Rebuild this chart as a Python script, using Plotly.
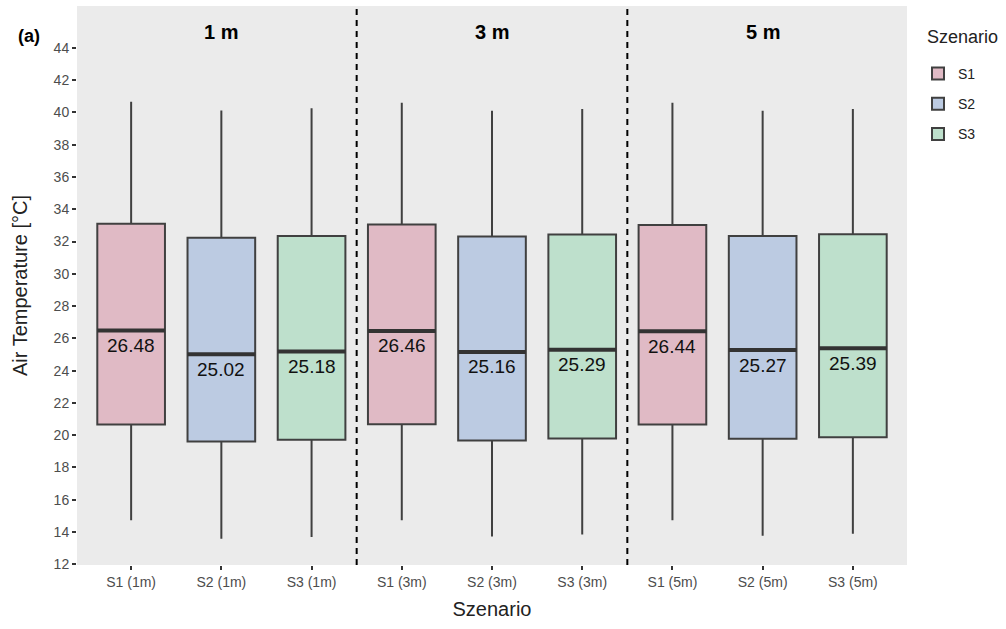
import plotly.graph_objects as go

categories = ["S1 (1m)", "S2 (1m)", "S3 (1m)", "S1 (3m)", "S2 (3m)", "S3 (3m)", "S1 (5m)", "S2 (5m)", "S3 (5m)"]
scenarios = ["S1", "S2", "S3"]
heights = ["1 m", "3 m", "5 m"]

# per scenario, values at 1m, 3m, 5m
lower = {"S1": [14.73, 14.73, 14.73], "S2": [13.57, 13.72, 13.76], "S3": [13.68, 13.84, 13.88]}
q1 = {"S1": [20.66, 20.68, 20.66], "S2": [19.60, 19.66, 19.77], "S3": [19.71, 19.79, 19.87]}
median = {"S1": [26.48, 26.46, 26.44], "S2": [25.02, 25.16, 25.27], "S3": [25.18, 25.29, 25.39]}
q3 = {"S1": [33.11, 33.05, 33.03], "S2": [32.24, 32.32, 32.34], "S3": [32.34, 32.43, 32.45]}
upper = {"S1": [40.67, 40.61, 40.61], "S2": [40.13, 40.11, 40.11], "S3": [40.26, 40.22, 40.22]}

fill_colors = {"S1": "#E0BAC5", "S2": "#BCCBE2", "S3": "#BEE0CC"}
line_color = "#404040"
box_width = 0.75

W, H = 1006, 629
L, R, T, B = 77, 99, 6, 64
pw, ph = W - L - R, H - T - B


def px_x(x):
    return (x - L) / pw


def px_y(y):
    return 1 - (y - T) / ph


fig = go.Figure()
for si, s in enumerate(scenarios):
    xs = [f"{s} ({h.replace(' ', '')})" for h in heights]
    fig.add_trace(go.Box(
        name=s, x=xs, legendgroup=s,
        q1=q1[s], median=median[s], q3=q3[s],
        lowerfence=lower[s], upperfence=upper[s],
        fillcolor=fill_colors[s], line=dict(color=line_color, width=2),
        whiskerwidth=0, width=box_width, boxpoints=False,
        hoverinfo="skip",
    ))

# thick median lines and labels
for si, s in enumerate(scenarios):
    for hi, h in enumerate(heights):
        cat = f"{s} ({h.replace(' ', '')})"
        idx = categories.index(cat)
        fig.add_shape(type="line", xref="x", yref="y",
                      x0=idx - box_width / 2, x1=idx + box_width / 2,
                      y0=median[s][hi], y1=median[s][hi],
                      line=dict(color="#333333", width=4))
        fig.add_annotation(x=cat, y=median[s][hi], text=f"{median[s][hi]:.2f}",
                           showarrow=False, yshift=-15,
                           font=dict(size=19, color="#111111", family="Arial"))

# dashed separators between height groups
for b in [2.5, 5.5]:
    fig.add_shape(type="line", xref="x", yref="paper", x0=b, x1=b, y0=0, y1=1,
                  line=dict(color="black", width=2, dash="6px,5px"))

# group titles
for gi, h in enumerate(heights):
    fig.add_annotation(x=gi * 3 + 1, xref="x", y=px_y(32), yref="paper", yanchor="middle",
                       text=f"<b>{h}</b>", showarrow=False,
                       font=dict(size=20, color="black", family="Arial"))
fig.add_annotation(x=px_x(29), y=px_y(36), xref="paper", yref="paper", text="<b>(a)</b>",
                   showarrow=False, xanchor="center", yanchor="middle",
                   font=dict(size=18, color="black", family="Arial"))
# legend title
fig.add_annotation(x=px_x(925), y=px_y(37), xref="paper", yref="paper", text="Szenario",
                   showarrow=False, xanchor="left", yanchor="middle",
                   font=dict(size=18, color="#222222", family="Arial"))

fig.update_layout(
    width=W, height=H,
    margin=dict(l=L, r=R, t=T, b=B, autoexpand=False),
    plot_bgcolor="#EBEBEB", paper_bgcolor="white",
    font=dict(family="Arial", color="#4D4D4D"),
    boxmode="overlay",
    showlegend=True,
    legend=dict(
        x=px_x(918), y=px_y(58), xanchor="left", yanchor="top",
        font=dict(size=14, color="#222222"),
        bgcolor="rgba(0,0,0,0)",
        tracegroupgap=9,
        itemsizing="constant",
    ),
    xaxis=dict(
        type="category", categoryorder="array", categoryarray=categories,
        range=[-0.6, 8.6], showgrid=False, zeroline=False, automargin=False,
        ticks="outside", ticklen=4, tickcolor="#333333", tickwidth=1.5,
        tickfont=dict(size=14, color="#4D4D4D"),
        title=dict(text="Szenario", font=dict(size=20, color="#222222"), standoff=13),
    ),
    yaxis=dict(
        range=[11.95, 46.6], tickmode="array", tickvals=list(range(12, 45, 2)),
        showgrid=False, zeroline=False, automargin=False,
        ticks="outside", ticklen=4, tickcolor="#333333", tickwidth=1.5,
        tickfont=dict(size=14, color="#4D4D4D"),
        title=dict(text="Air Temperature [°C]", font=dict(size=20, color="#222222"), standoff=20),
    ),
)

fig.write_html("out.html", post_script="document.body.style.margin='0';",
               config={"displayModeBar": False})
